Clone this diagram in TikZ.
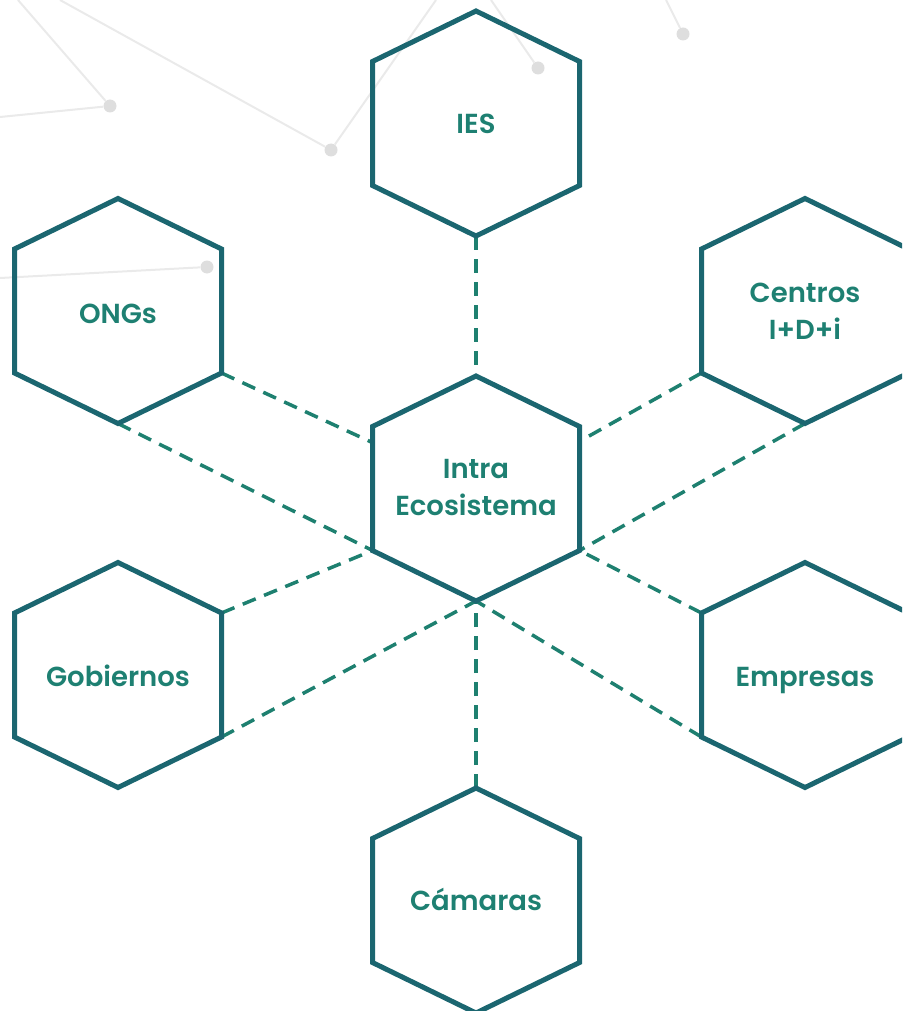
\documentclass[tikz,border=0pt]{standalone}
\usepackage{fontspec}
\usetikzlibrary{calc}
\newfontfamily\hexfont{Poppins SemiBold}
\definecolor{hexline}{RGB}{27,102,112}
\definecolor{dashcol}{RGB}{30,128,112}
\definecolor{textcol}{RGB}{30,128,114}
\definecolor{bgline}{RGB}{234,234,234}
\definecolor{bgdot}{RGB}{222,222,222}
\newcommand\mkhex[3]{%
  \path (#2,#3) coordinate (#1)
    +(0,-112.5) coordinate (#1-t)
    +(103.5,-62) coordinate (#1-ur)
    +(103.5,62) coordinate (#1-lr)
    +(0,112.5) coordinate (#1-b)
    +(-103.5,62) coordinate (#1-ll)
    +(-103.5,-62) coordinate (#1-ul);}
\newcommand\drawhex[1]{%
  \draw[hexbox] (#1-t) -- (#1-ur) -- (#1-lr) -- (#1-b) -- (#1-ll) -- (#1-ul) -- cycle;}
\tikzset{
  hexbox/.style={draw=hexline, line width=5pt, line join=miter},
  link/.style={draw=dashcol, line width=3.5pt, dash pattern=on 14pt off 9pt},
  hexlabel/.style={text=textcol, font=\hexfont\fontsize{27.5}{37}\selectfont, align=center, inner sep=0pt},
  bgedge/.style={draw=bgline, line width=2pt},
  bgnode/.style={circle, fill=bgdot, minimum size=13pt, inner sep=0pt},
}
\begin{document}
\begin{tikzpicture}[x=1pt,y=-1pt]
\useasboundingbox (0,0) rectangle (902,1011);
\clip (0,0) rectangle (902,1011);
% background network
\node[bgnode] (d1) at (110,106) {};
\node[bgnode] (d2) at (331,150) {};
\node[bgnode] (d3) at (538,68) {};
\node[bgnode] (d4) at (683,34) {};
\node[bgnode] (d5) at (207,267) {};
\coordinate (e1) at (18,0);
\coordinate (e2) at (0,117);
\coordinate (e3) at (60,0);
\coordinate (e4) at (436,0);
\coordinate (e5) at (491,0);
\coordinate (e6) at (666,0);
\coordinate (e7) at (0,278);
\draw[bgedge] (e1) -- (d1) -- (e2);
\draw[bgedge] (e3) -- (d2) -- (e4);
\draw[bgedge] (e5) -- (d3);
\draw[bgedge] (e6) -- (d4);
\draw[bgedge] (e7) -- (d5);
% hexagon geometry
\mkhex{C}{476}{488.5}
\mkhex{IES}{476}{123.5}
\mkhex{ONG}{118}{311}
\mkhex{CEN}{805}{311}
\mkhex{GOB}{118}{675}
\mkhex{EMP}{805}{675}
\mkhex{CAM}{476}{900.5}
\coordinate (Cl) at ($(C-ul)!0.13!(C-ll)$);
\coordinate (Cr) at ($(C-ur)!0.12!(C-lr)$);
% connectors
\draw[link] (IES-b) -- (C-t);
\draw[link] (ONG-lr) -- (Cl);
\draw[link] (ONG-b) -- (C-ll);
\draw[link] (CEN-ll) -- (Cr);
\draw[link] (CEN-b) -- (C-lr);
\draw[link] (GOB-ur) -- (C-ll);
\draw[link] (GOB-lr) -- (C-b);
\draw[link] (EMP-ul) -- (C-lr);
\draw[link] (EMP-ll) -- (C-b);
\draw[link] (CAM-t) -- (C-b);
% hexagons
\drawhex{C}
\drawhex{IES}
\drawhex{ONG}
\drawhex{CEN}
\drawhex{GOB}
\drawhex{EMP}
\drawhex{CAM}
% labels
\node[hexlabel] (lC) at (476,488) {Intra\\Ecosistema};
\node[hexlabel] (lIES) at (IES) {IES};
\node[hexlabel] (lONG) at (118,314) {ONGs};
\node[hexlabel] (lCEN) at (805,311) {Centros\\I+D+i};
\node[hexlabel] (lGOB) at (118,676) {Gobiernos};
\node[hexlabel] (lEMP) at (805,681) {Empresas};
\node[hexlabel] (lCAM) at (476,899) {Cámaras};
\end{tikzpicture}
\end{document}
